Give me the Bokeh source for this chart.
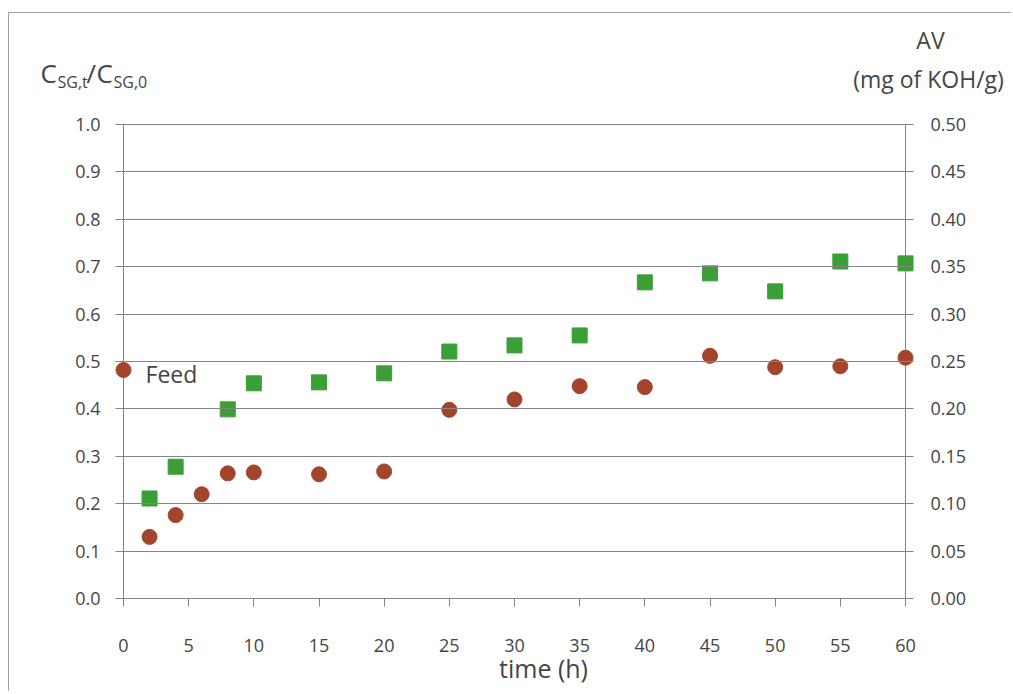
from bokeh.plotting import figure
from bokeh.models import Range1d, LinearAxis, Label, FixedTicker, NumeralTickFormatter
from bokeh.embed import file_html
from bokeh.resources import INLINE

# Data
time_sg = [2, 4, 8, 10, 15, 20, 25, 30, 35, 40, 45, 50, 55, 60]
c_ratio = [0.211, 0.278, 0.399, 0.454, 0.456, 0.475, 0.521, 0.534, 0.555, 0.667, 0.686, 0.648, 0.711, 0.707]

time_av = [0, 2, 4, 6, 8, 10, 15, 20, 25, 30, 35, 40, 45, 50, 55, 60]
av_vals = [0.241, 0.065, 0.088, 0.110, 0.132, 0.133, 0.131, 0.134, 0.199, 0.210, 0.224, 0.223, 0.256, 0.244, 0.245, 0.254]

x_ticks = list(range(0, 61, 5))
left_ticks = [i / 10 for i in range(11)]
right_ticks = [i / 20 for i in range(11)]

FONT = "Open Sans"
TXT = "#454545"
GRID = "#858585"
GREEN = "#3c9f36"
BROWN = "#a3452d"
TICK_PX = "18px"

W, H = 1003, 679
PX_X = 782 / 60.0      # px per hour
PX_Y = 474.0           # px per unit of left axis
X0, Y0 = 114, 585      # canvas position of the origin

x_start = -X0 / PX_X
x_end = (W - X0) / PX_X
y_start = -(H - Y0) / PX_Y
y_end = Y0 / PX_Y
x_lo = x_ticks[0] - 8 / PX_X
x_hi = x_ticks[-1] + 8 / PX_X

p = figure(width=W, height=H, output_backend="svg", toolbar_location=None,
           x_range=Range1d(x_start, x_end), y_range=Range1d(y_start, y_end),
           min_border=0, min_border_left=0, min_border_right=0, min_border_top=0, min_border_bottom=0,
           y_axis_location=None)
p.title.visible = False
p.extra_y_ranges = {"av": Range1d(y_start / 2, y_end / 2)}
p.styles = {"margin-left": "8px", "margin-top": "12px",
            "border-left": "1px solid #a0a0a0", "border-top": "1px solid #a0a0a0"}
p.outline_line_color = None
p.background_fill_color = "white"
p.border_fill_color = "white"
p.xgrid.grid_line_color = None
p.ygrid.grid_line_color = None

# x axis, fixed at y = 0
xa = p.xaxis[0]
xa.fixed_location = left_ticks[0]
xa.ticker = FixedTicker(ticks=x_ticks)
xa.axis_line_color = None
xa.major_tick_in = 0
xa.major_tick_out = 8
xa.major_tick_line_color = GRID
xa.minor_tick_line_color = None
xa.major_label_standoff = 32
xa.major_label_text_font = FONT
xa.major_label_text_font_size = TICK_PX
xa.major_label_text_color = TXT

# left axis; its long inward ticks serve as the horizontal grid lines
la = LinearAxis(ticker=FixedTicker(ticks=left_ticks), formatter=NumeralTickFormatter(format="0.0"),
                fixed_location=x_lo)
la.axis_line_color = None
la.major_tick_line_color = GRID
la.major_tick_out = 0
la.major_tick_in = int(round(x_hi * PX_X - x_lo * PX_X))
la.minor_tick_line_color = None
la.major_label_standoff = 15
la.major_label_text_font = FONT
la.major_label_text_font_size = TICK_PX
la.major_label_text_color = TXT
p.add_layout(la, "left")

# right axis
ra = LinearAxis(y_range_name="av", ticker=FixedTicker(ticks=right_ticks),
                formatter=NumeralTickFormatter(format="0.00"), fixed_location=x_hi)
ra.axis_line_color = None
ra.major_tick_line_color = None
ra.major_tick_out = 0
ra.major_tick_in = 0
ra.minor_tick_line_color = None
ra.major_label_standoff = 17
ra.major_label_text_font = FONT
ra.major_label_text_font_size = TICK_PX
ra.major_label_text_color = TXT
p.add_layout(ra, "right")

# vertical frame lines at the ends of the time axis
p.segment(x0=[x_ticks[0], x_ticks[-1]], y0=[left_ticks[0]] * 2,
          x1=[x_ticks[0], x_ticks[-1]], y1=[left_ticks[-1]] * 2,
          line_color=GRID, line_width=1)

p.scatter(time_sg, c_ratio, marker="square", size=15, fill_color=GREEN, line_color=GREEN)
p.scatter(time_av, av_vals, marker="circle", size=15, fill_color=BROWN, line_color=BROWN, y_range_name="av")


def slabel(x, y, text, size, align="left", baseline="alphabetic"):
    p.add_layout(Label(x=x, y=y, x_units="screen", y_units="screen", text=text,
                       text_font=FONT, text_font_size=size, text_color=TXT,
                       text_align=align, text_baseline=baseline))


# Left title  C_SG,t / C_SG,0
slabel(31, 620, "C", "26px")
slabel(48, 611, "SG,t", "16px")
slabel(77, 620, "/", "26px")
slabel(87, 620, "C", "26px")
slabel(104, 611, "SG,0", "16px")

# Right title
slabel(921, 653, "AV", "23px", align="center")
slabel(919, 614, "(mg of KOH/g)", "23px", align="center")

# x axis title
slabel(534, 25, "time (h)", "25px", align="center", baseline="middle")

# Feed annotation
p.add_layout(Label(x=1.69, y=0.474, text="Feed", text_font=FONT, text_font_size="23px",
                   text_color=TXT, text_align="left", text_baseline="middle"))

open("out.html", "w").write(file_html(p, INLINE))
